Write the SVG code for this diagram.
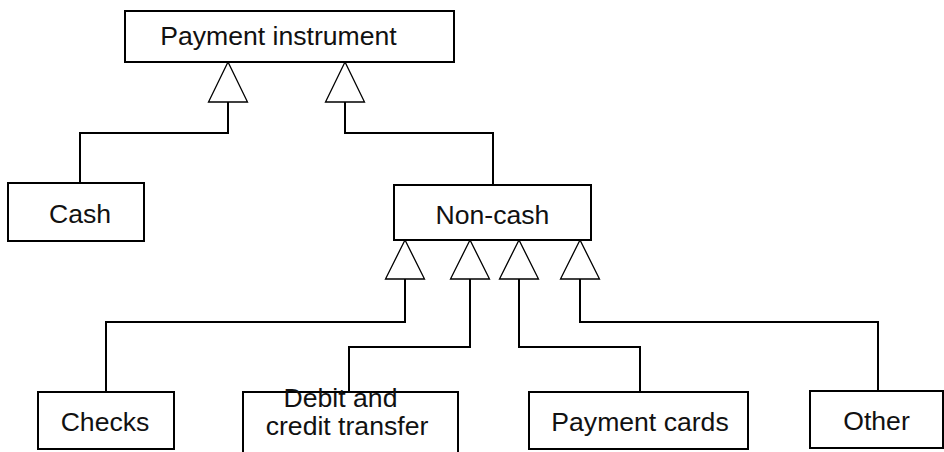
<svg xmlns="http://www.w3.org/2000/svg" width="944" height="452" viewBox="0 0 944 452">
  <style>
    .box { fill: #ffffff; stroke: #000000; stroke-width: 2; }
    .lbl { font-family: "Liberation Sans", Arial, Helvetica, sans-serif; font-size: 26.6px; fill: #111111; text-anchor: middle; }
    .wire { fill: none; stroke: #000000; stroke-width: 2; }
    .tri { fill: #ffffff; stroke: #000000; stroke-width: 1.3; stroke-linejoin: miter; }
  </style>
  <rect width="944" height="452" fill="#ffffff"/>

  <!-- generalization connectors -->
  <g id="connectors">
    <polyline class="wire" points="80,183 80,133 228,133 228,102"/>
    <polyline class="wire" points="493,185 493,133 345,133 345,102"/>
    <polyline class="wire" points="106,392 106,322 405,322 405,279"/>
    <polyline class="wire" points="349,392 349,347 470,347 470,279"/>
    <polyline class="wire" points="640,392 640,347 519,347 519,279"/>
    <polyline class="wire" points="878,391 878,322 580,322 580,279"/>
    <polygon class="tri" points="228,62 208.5,102 247.5,102"/>
    <polygon class="tri" points="345,62 325.5,102 364.5,102"/>
    <polygon class="tri" points="405,240 385.5,279 424.5,279"/>
    <polygon class="tri" points="470,240 450.5,279 489.5,279"/>
    <polygon class="tri" points="519,240 499.5,279 538.5,279"/>
    <polygon class="tri" points="580,240 560.5,279 599.5,279"/>
  </g>

  <g id="payment-instrument">
    <rect class="box" x="125" y="11" width="329" height="51"/>
    <text class="lbl" x="278.5" y="45">Payment instrument</text>
  </g>
  <g id="cash">
    <rect class="box" x="8" y="183" width="136" height="58"/>
    <text class="lbl" x="80" y="223">Cash</text>
  </g>
  <g id="non-cash">
    <rect class="box" x="394" y="185" width="197" height="55"/>
    <text class="lbl" x="492.5" y="224">Non-cash</text>
  </g>
  <g id="checks">
    <rect class="box" x="38" y="392" width="136" height="57"/>
    <text class="lbl" x="105" y="431">Checks</text>
  </g>
  <g id="debit-credit-transfer">
    <rect class="box" x="243" y="392" width="215" height="70"/>
    <text class="lbl" x="340.5" y="407">Debit and</text>
    <text class="lbl" x="347" y="435">credit transfer</text>
  </g>
  <g id="payment-cards">
    <rect class="box" x="529" y="392" width="219" height="57"/>
    <text class="lbl" x="640" y="431">Payment cards</text>
  </g>
  <g id="other">
    <rect class="box" x="810" y="391" width="133" height="57"/>
    <text class="lbl" x="876.5" y="430">Other</text>
  </g>
</svg>
